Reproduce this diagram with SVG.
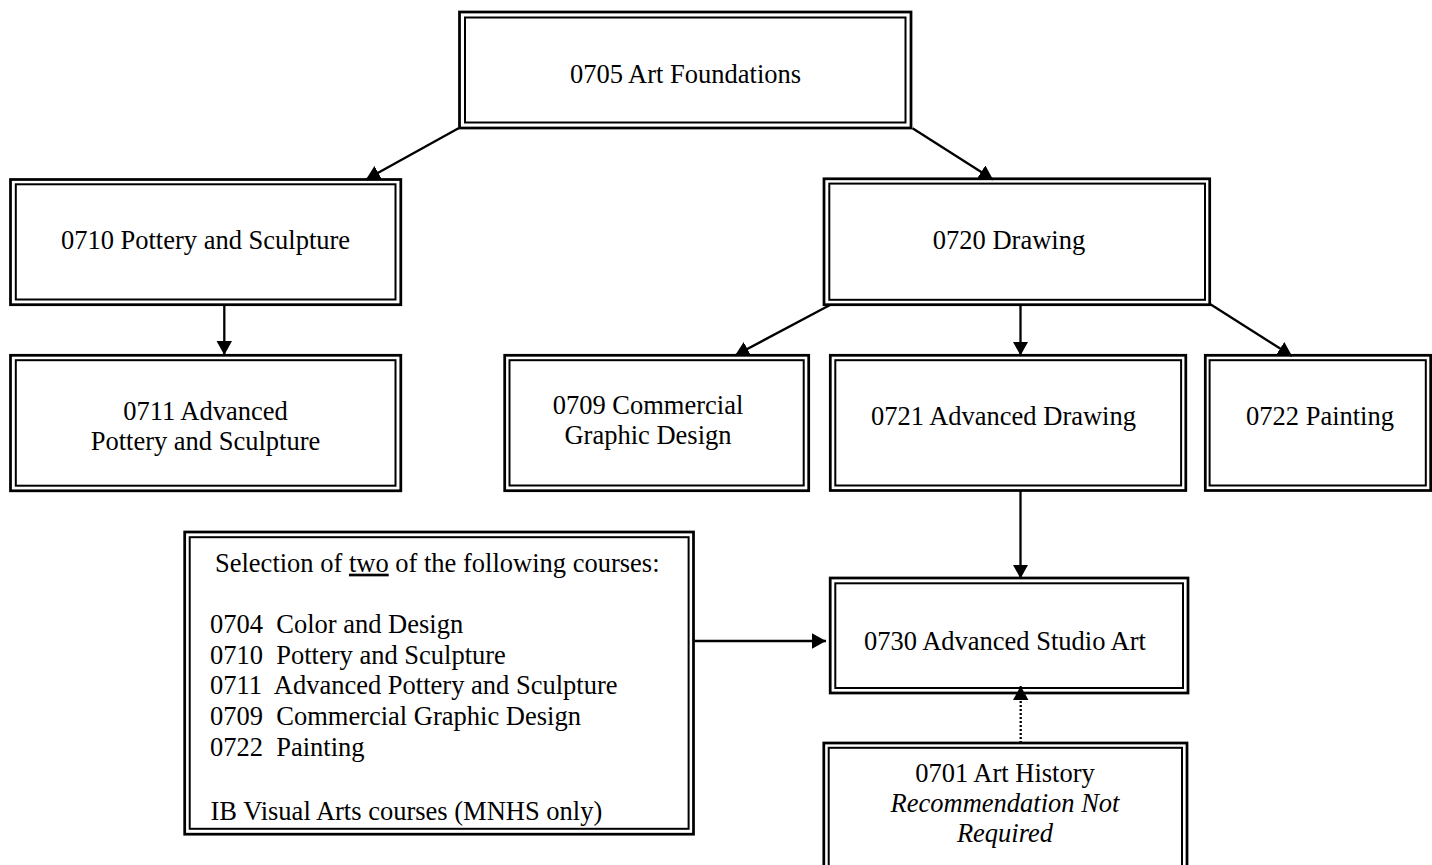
<svg xmlns="http://www.w3.org/2000/svg" width="1432" height="865" viewBox="0 0 1432 865">
<defs>
<style>
.o{fill:none;stroke:#000;stroke-width:2.75}
.i{fill:none;stroke:#000;stroke-width:2}
.t{font-family:"Liberation Serif","Times New Roman",serif;font-size:26.5px;fill:#000}
.m{text-anchor:middle}
.c{fill:none;stroke:#000;stroke-width:2.3}
.d{fill:none;stroke:#000;stroke-width:2.3;stroke-dasharray:2 2}
</style>
<marker id="ah" markerUnits="userSpaceOnUse" markerWidth="15" markerHeight="16" refX="14" refY="7.75" orient="auto" viewBox="0 0 15 16">
<path d="M0,0 L14,7.75 L0,15.5 z" fill="#000"/>
</marker>
</defs>
<rect width="1432" height="865" fill="#fff"/>

<g id="n0705">
<rect class="o" x="459.5" y="12" width="451.5" height="116"/>
<rect class="i" x="465" y="17.5" width="440.5" height="105"/>
<text class="t m" x="685.5" y="83">0705 Art Foundations</text>
</g>

<g id="n0710">
<rect class="o" x="10.5" y="179.5" width="390.3" height="125.2"/>
<rect class="i" x="15.8" y="184.3" width="379.7" height="115.2"/>
<text class="t m" x="205.5" y="249">0710 Pottery and Sculpture</text>
</g>

<g id="n0711">
<rect class="o" x="10.5" y="355.3" width="390.3" height="135.5"/>
<rect class="i" x="15.8" y="360.2" width="379.7" height="125.5"/>
<text class="t m" x="205.5" y="420">0711 Advanced</text>
<text class="t m" x="205.5" y="450">Pottery and Sculpture</text>
</g>

<g id="n0720">
<rect class="o" x="824" y="178.8" width="385.7" height="125.9"/>
<rect class="i" x="829.3" y="183.6" width="375.7" height="116.2"/>
<text class="t m" x="1009" y="249">0720 Drawing</text>
</g>

<g id="n0709">
<rect class="o" x="504.7" y="355.3" width="304" height="135.4"/>
<rect class="i" x="509.5" y="360.2" width="294.2" height="125.3"/>
<text class="t m" x="648" y="414">0709 Commercial</text>
<text class="t m" x="648" y="444">Graphic Design</text>
</g>

<g id="n0721">
<rect class="o" x="830.3" y="355.3" width="355.5" height="135.2"/>
<rect class="i" x="835.3" y="360.2" width="345.8" height="125.3"/>
<text class="t m" x="1003.5" y="425">0721 Advanced Drawing</text>
</g>

<g id="n0722">
<rect class="o" x="1205.3" y="355.3" width="225.4" height="135.2"/>
<rect class="i" x="1209.6" y="360.2" width="216.2" height="125.3"/>
<text class="t m" x="1320" y="425">0722 Painting</text>
</g>

<g id="nSel">
<rect class="o" x="184.7" y="532" width="508.8" height="302.2"/>
<rect class="i" x="189.7" y="537.2" width="498.9" height="291.6"/>
<text class="t" x="215" y="571.7">Selection of <tspan style="text-decoration:underline">two</tspan> of the following courses:</text>
<text class="t" x="210" y="633.3" xml:space="preserve">0704  Color and Design</text>
<text class="t" x="210" y="663.8" xml:space="preserve">0710  Pottery and Sculpture</text>
<text class="t" x="210" y="694.3" xml:space="preserve">0711  Advanced Pottery and Sculpture</text>
<text class="t" x="210" y="725" xml:space="preserve">0709  Commercial Graphic Design</text>
<text class="t" x="210" y="755.6" xml:space="preserve">0722  Painting</text>
<text class="t" x="210.5" y="820">IB Visual Arts courses (MNHS only)</text>
</g>

<g id="n0730">
<rect class="o" x="830.2" y="578" width="357.8" height="115"/>
<rect class="i" x="835.3" y="583.3" width="347.7" height="104.7"/>
<text class="t m" x="1005" y="650">0730 Advanced Studio Art</text>
</g>

<g id="n0701">
<rect class="o" x="823.8" y="743" width="363.2" height="130"/>
<rect class="i" x="828.7" y="747.8" width="353.3" height="125"/>
<text class="t m" x="1005" y="781.7">0701 Art History</text>
<text class="t m" x="1005" y="811.7" font-style="italic">Recommendation Not</text>
<text class="t m" x="1005" y="841.7" font-style="italic">Required</text>
</g>

<g id="connectors">
<line class="c" x1="458.5" y1="128.3" x2="366" y2="179.5" marker-end="url(#ah)"/>
<line class="c" x1="912.5" y1="128.3" x2="993" y2="179.5" marker-end="url(#ah)"/>
<line class="c" x1="224.3" y1="305" x2="224.3" y2="355" marker-end="url(#ah)"/>
<line class="c" x1="830" y1="305" x2="735" y2="355.5" marker-end="url(#ah)"/>
<line class="c" x1="1020.5" y1="305" x2="1020.5" y2="355.5" marker-end="url(#ah)"/>
<line class="c" x1="1210" y1="304" x2="1292" y2="356" marker-end="url(#ah)"/>
<line class="c" x1="1020.5" y1="491" x2="1020.5" y2="578.5" marker-end="url(#ah)"/>
<line class="c" x1="694.5" y1="641" x2="826" y2="641" marker-end="url(#ah)"/>
<line class="d" x1="1020.7" y1="743" x2="1020.7" y2="686" marker-end="url(#ah)"/>
</g>
</svg>
